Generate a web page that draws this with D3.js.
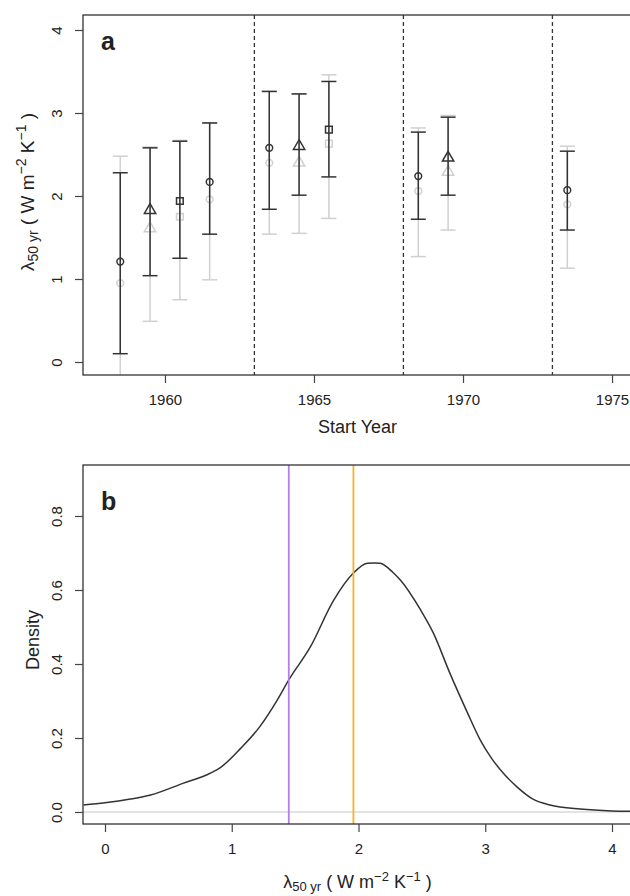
<!DOCTYPE html>
<html>
<head>
<meta charset="UTF-8">
<script src="https://d3js.org/d3.v7.min.js"></script>
<style>
  body { margin: 0; background: #fff; font-family: "Liberation Sans", Arial, sans-serif; }
  svg text { fill: #222; }
</style>
</head>
<body>
<svg width="630" height="896"></svg>
<script>
// panel a: estimates by start year
const startYears = [1958.5, 1959.5, 1960.5, 1961.5, 1963.5, 1964.5, 1965.5, 1968.5, 1969.5, 1973.5];
const shapes     = ["circle", "triangle", "square", "circle", "circle", "triangle", "square", "circle", "triangle", "circle"];
const blackMid   = [1.21, 1.83, 1.94, 2.17, 2.58, 2.60, 2.80, 2.24, 2.46, 2.07];
const blackLo    = [0.10, 1.04, 1.25, 1.54, 1.84, 2.01, 2.23, 1.72, 2.01, 1.59];
const blackHi    = [2.28, 2.58, 2.66, 2.88, 3.26, 3.23, 3.38, 2.77, 2.95, 2.54];
const greyMid    = [0.95, 1.61, 1.75, 1.96, 2.40, 2.40, 2.63, 2.06, 2.29, 1.90];
const greyLo     = [-0.30, 0.49, 0.75, 0.99, 1.54, 1.55, 1.73, 1.27, 1.59, 1.13];
const greyHi     = [2.48, 2.59, 2.67, 2.88, 3.26, 3.23, 3.46, 2.82, 2.97, 2.60];
const breakYears = [1963, 1968, 1973];
const yearTicks  = [1960, 1965, 1970, 1975];
const lambdaTicksA = [0, 1, 2, 3, 4];

// panel b: density curve
const densX = [-0.17, 0, 0.2, 0.36, 0.62, 0.8, 0.91, 1.07, 1.22, 1.36, 1.45, 1.62, 1.8, 1.96, 2.07, 2.12, 2.17, 2.27, 2.33, 2.49, 2.59, 2.72, 2.86, 2.96, 3.05, 3.15, 3.25, 3.38, 3.51, 3.75, 4.0, 4.16];
const densY = [0.019, 0.025, 0.035, 0.046, 0.078, 0.10, 0.12, 0.172, 0.23, 0.303, 0.357, 0.446, 0.57, 0.646, 0.672, 0.673, 0.672, 0.648, 0.627, 0.546, 0.484, 0.376, 0.268, 0.195, 0.145, 0.102, 0.068, 0.034, 0.019, 0.008, 0.003, 0.002];
const purpleAt = 1.45;
const orangeAt = 1.96;
const lambdaTicksB = [0, 1, 2, 3, 4];
const densTicks = [0.0, 0.2, 0.4, 0.6, 0.8];

const svg = d3.select("svg");
const left = 83, right = 632;

function lambdaLabel(g, x, y, rotate, big, small) {
  const t = g.append("text")
    .attr("transform", `translate(${x},${y})` + (rotate ? " rotate(-90)" : ""))
    .attr("text-anchor", "middle")
    .style("font-size", big + "px");
  t.append("tspan").text("λ");
  t.append("tspan").attr("baseline-shift", "-25%").style("font-size", small + "px").text("50 yr");
  t.append("tspan").text("  ( W m");
  t.append("tspan").attr("baseline-shift", "super").style("font-size", small + "px").text("−2");
  t.append("tspan").text(" K");
  t.append("tspan").attr("baseline-shift", "super").style("font-size", small + "px").text("−1");
  t.append("tspan").text(" )");
}

function axisStyle(g) {
  g.select(".domain").remove();
  g.selectAll(".tick line").attr("stroke", "#444").attr("stroke-width", 1.2);
  g.selectAll(".tick text").style("font-size", "15px").attr("fill", "#222");
}
function rotateY(g) {
  g.selectAll(".tick text").attr("transform", "rotate(-90)")
    .attr("x", 0).attr("y", -21).attr("dy", "0").attr("text-anchor", "middle");
}

// ---------- panel a ----------
const topA = 15, botA = 375;
const xa = d3.scaleLinear().domain([1957.25, 1975.67]).range([left, right]);
const ya = d3.scaleLinear().domain([0, 4]).range([362, 30]);

svg.append("defs").append("clipPath").attr("id", "clipA")
  .append("rect").attr("x", left).attr("y", topA).attr("width", right - left).attr("height", botA - topA);

const gA = svg.append("g").attr("clip-path", "url(#clipA)");

gA.selectAll(".brk").data(breakYears).join("line")
  .attr("x1", d => xa(d)).attr("x2", d => xa(d))
  .attr("y1", topA).attr("y2", botA)
  .attr("stroke", "#333").attr("stroke-width", 1.3).attr("stroke-dasharray", "4,3");

const pts = startYears.map((s, i) => ({
  s, shape: shapes[i],
  bm: blackMid[i], bl: blackLo[i], bh: blackHi[i],
  gm: greyMid[i], gl: greyLo[i], gh: greyHi[i]
}));

const symType = { circle: d3.symbolCircle, triangle: d3.symbolTriangle, square: d3.symbolSquare };
const symSize = { circle: 36, triangle: 56, square: 45 };

function drawSet(mid, lo, hi, color, sw) {
  const g = gA.append("g");
  g.selectAll(".bar").data(pts).join("line")
    .attr("x1", d => xa(d.s)).attr("x2", d => xa(d.s))
    .attr("y1", d => ya(d[lo])).attr("y2", d => ya(d[hi]))
    .attr("stroke", color).attr("stroke-width", sw);
  [lo, hi].forEach(k => {
    g.selectAll(".cap" + k).data(pts).join("line")
      .attr("x1", d => xa(d.s) - 7.5).attr("x2", d => xa(d.s) + 7.5)
      .attr("y1", d => ya(d[k])).attr("y2", d => ya(d[k]))
      .attr("stroke", color).attr("stroke-width", sw);
  });
  g.selectAll(".sym").data(pts).join("path")
    .attr("transform", d => `translate(${xa(d.s)},${ya(d[mid])})`)
    .attr("d", d => d3.symbol(symType[d.shape], symSize[d.shape])())
    .attr("fill", "none").attr("stroke", color).attr("stroke-width", sw);
}
drawSet("gm", "gl", "gh", "#d0d0d0", 1.5);
drawSet("bm", "bl", "bh", "#333", 1.5);

svg.append("rect").attr("x", left).attr("y", topA).attr("width", right - left).attr("height", botA - topA)
  .attr("fill", "none").attr("stroke", "#333").attr("stroke-width", 1.3);

svg.append("g").attr("transform", `translate(0,${botA})`)
  .call(d3.axisBottom(xa).tickValues(yearTicks).tickFormat(d3.format("d")).tickSize(8).tickPadding(11))
  .call(axisStyle);

svg.append("g").attr("transform", `translate(${left},0)`)
  .call(d3.axisLeft(ya).tickValues(lambdaTicksA).tickFormat(d3.format("d")).tickSize(8))
  .call(axisStyle)
  .call(rotateY);

svg.append("text").attr("x", 101).attr("y", 50).style("font-size", "25px").style("font-weight", "bold").text("a");
svg.append("text").attr("x", (left + right) / 2).attr("y", 433).attr("text-anchor", "middle")
  .style("font-size", "18px").text("Start Year");
lambdaLabel(svg, 34, 192, true, 19, 14);

// ---------- panel b ----------
const topB = 465, botB = 824;
const xb = d3.scaleLinear().domain([0, 4]).range([105, 612]);
const yb = d3.scaleLinear().domain([0, 0.8]).range([812, 516]);

svg.append("defs").append("clipPath").attr("id", "clipB")
  .append("rect").attr("x", left).attr("y", topB).attr("width", right - left).attr("height", botB - topB);
const gB = svg.append("g").attr("clip-path", "url(#clipB)");

gB.append("line").attr("x1", left).attr("x2", right).attr("y1", yb(0)).attr("y2", yb(0))
  .attr("stroke", "#c8c8c8").attr("stroke-width", 1.2);

gB.append("path").datum(densX.map((x, i) => [x, densY[i]]))
  .attr("d", d3.line().x(d => xb(d[0])).y(d => yb(d[1])).curve(d3.curveMonotoneX))
  .attr("fill", "none").attr("stroke", "#333").attr("stroke-width", 1.5);

gB.append("line").attr("x1", xb(purpleAt)).attr("x2", xb(purpleAt)).attr("y1", topB).attr("y2", botB)
  .attr("stroke", "#b77ee6").attr("stroke-width", 1.8);
gB.append("line").attr("x1", xb(orangeAt)).attr("x2", xb(orangeAt)).attr("y1", topB).attr("y2", botB)
  .attr("stroke", "#f5b22a").attr("stroke-width", 1.8);

svg.append("rect").attr("x", left).attr("y", topB).attr("width", right - left).attr("height", botB - topB)
  .attr("fill", "none").attr("stroke", "#333").attr("stroke-width", 1.3);

svg.append("g").attr("transform", `translate(0,${botB})`)
  .call(d3.axisBottom(xb).tickValues(lambdaTicksB).tickFormat(d3.format("d")).tickSize(8).tickPadding(11))
  .call(axisStyle);

svg.append("g").attr("transform", `translate(${left},0)`)
  .call(d3.axisLeft(yb).tickValues(densTicks).tickFormat(d3.format(".1f")).tickSize(8))
  .call(axisStyle)
  .call(rotateY);

svg.append("text").attr("x", 101).attr("y", 510).style("font-size", "25px").style("font-weight", "bold").text("b");
svg.append("text").attr("transform", "translate(39,640) rotate(-90)").attr("text-anchor", "middle")
  .style("font-size", "18px").text("Density");
lambdaLabel(svg, (left + right) / 2, 888, false, 18, 13);
</script>
</body>
</html>
